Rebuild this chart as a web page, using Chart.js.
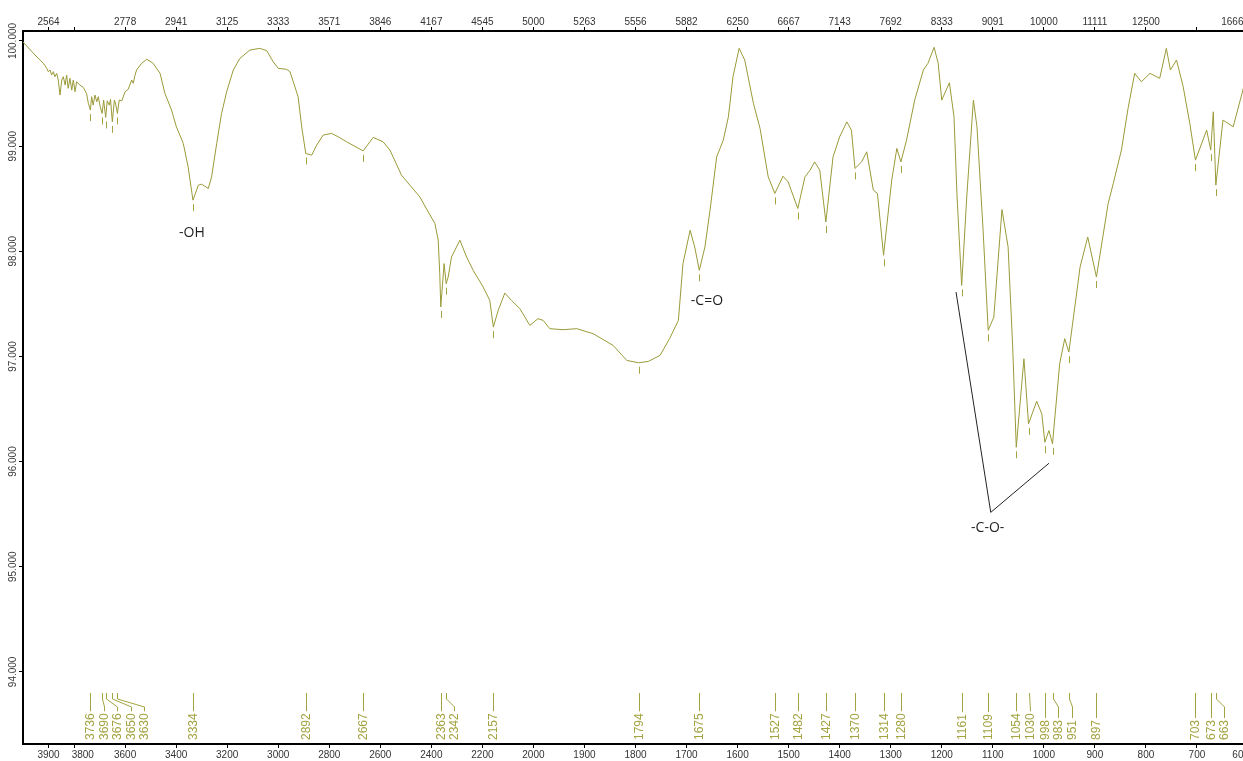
<!DOCTYPE html>
<html>
<head>
<meta charset="utf-8">
<title>IR spectrum</title>
<script src="https://cdn.jsdelivr.net/npm/chart.js@4.4.1/dist/chart.umd.min.js"></script>
<style>
  html, body { margin: 0; padding: 0; overflow: hidden; background: #fff; }
  #wrap { position: absolute; left: 0; top: 0; width: 1250px; height: 761px; }
</style>
</head>
<body>
<div id="wrap"><canvas id="spectrum" width="1250" height="761"></canvas></div>
<script>
// spectrum (cm-1 / %T)
const wavenumber = [
  4000, 3953, 3920, 3907, 3901, 3894, 3888, 3881, 3875, 3868, 3862, 3855, 3848, 3842, 3835, 3829,
  3823, 3816, 3809, 3803, 3796, 3790, 3777, 3764, 3751, 3744, 3736, 3731, 3725, 3718, 3711, 3705,
  3698, 3690, 3684, 3676, 3670, 3662, 3657, 3650, 3642, 3637, 3630, 3623, 3613, 3600, 3588, 3574,
  3568, 3561, 3555, 3535, 3515, 3490, 3463, 3444, 3418, 3399, 3372, 3353, 3334, 3313, 3300, 3274,
  3261, 3241, 3222, 3202, 3176, 3150, 3111, 3072, 3045, 3020, 3000, 2967, 2954, 2941, 2922, 2908,
  2892, 2869, 2849, 2824, 2791, 2765, 2732, 2667, 2628, 2589, 2562, 2517, 2484, 2445, 2412, 2386,
  2373, 2367, 2363, 2350, 2342, 2334, 2321, 2288, 2262, 2236, 2197, 2171, 2157, 2138, 2112, 2086,
  2053, 2014, 1991, 1981, 1968, 1942, 1915, 1883, 1844, 1817, 1794, 1775, 1752, 1733, 1716, 1707,
  1693, 1684, 1675, 1664, 1654, 1641, 1628, 1618, 1609, 1597, 1586, 1569, 1556, 1540, 1527, 1511,
  1501, 1482, 1468, 1458, 1449, 1439, 1427, 1413, 1400, 1386, 1377, 1370, 1357, 1347, 1334, 1326,
  1314, 1298, 1288, 1280, 1269, 1253, 1236, 1227, 1215, 1207, 1200, 1185, 1176, 1170, 1161, 1151,
  1138, 1131, 1119, 1109, 1098, 1082, 1070, 1061, 1054, 1039, 1030, 1014, 1004, 998, 990, 983,
  969, 959, 951, 929, 914, 897, 874, 864, 848, 835, 822, 809, 792, 773, 760, 752,
  740, 727, 714, 703, 681, 673, 668, 665, 663, 649, 639, 629, 610, 600
];
const transmittance = [
  99.990, 99.867, 99.788, 99.740, 99.708, 99.724, 99.676, 99.708, 99.660, 99.692, 99.629, 99.486, 99.629, 99.660, 99.581, 99.676,
  99.550, 99.645, 99.533, 99.629, 99.517, 99.612, 99.581, 99.559, 99.502, 99.407, 99.343, 99.470, 99.390, 99.486, 99.422, 99.470,
  99.381, 99.311, 99.438, 99.273, 99.431, 99.390, 99.445, 99.231, 99.438, 99.400, 99.311, 99.438, 99.431, 99.517, 99.540, 99.629,
  99.597, 99.676, 99.724, 99.788, 99.826, 99.788, 99.692, 99.502, 99.343, 99.184, 99.026, 98.803, 98.486, 98.629, 98.638, 98.597,
  98.708, 99.026, 99.311, 99.517, 99.724, 99.835, 99.914, 99.930, 99.908, 99.803, 99.740, 99.730, 99.708, 99.612, 99.470, 99.184,
  98.930, 98.914, 99.010, 99.105, 99.121, 99.089, 99.041, 98.955, 99.083, 99.041, 98.962, 98.724, 98.629, 98.517, 98.374, 98.264,
  98.105, 97.788, 97.470, 97.883, 97.692, 97.755, 97.946, 98.105, 97.946, 97.819, 97.660, 97.533, 97.279, 97.438, 97.603, 97.533,
  97.454, 97.295, 97.359, 97.343, 97.264, 97.254, 97.264, 97.216, 97.105, 96.962, 96.940, 96.952, 97.010, 97.171, 97.343, 97.883,
  98.200, 98.041, 97.819, 98.041, 98.390, 98.898, 99.057, 99.279, 99.660, 99.930, 99.819, 99.407, 99.169, 98.708, 98.550, 98.714,
  98.660, 98.407, 98.708, 98.771, 98.850, 98.771, 98.279, 98.898, 99.089, 99.231, 99.152, 98.788, 98.850, 98.946, 98.581, 98.550,
  97.962, 98.676, 98.978, 98.850, 99.057, 99.438, 99.724, 99.788, 99.940, 99.788, 99.438, 99.603, 99.279, 98.517, 97.676, 98.517,
  99.438, 99.184, 98.200, 97.248, 97.374, 98.397, 98.041, 97.089, 96.136, 96.978, 96.359, 96.574, 96.454, 96.184, 96.295, 96.169,
  96.930, 97.169, 97.041, 97.850, 98.136, 97.755, 98.454, 98.645, 98.962, 99.359, 99.692, 99.612, 99.692, 99.645, 99.930, 99.724,
  99.819, 99.565, 99.216, 98.867, 99.152, 98.962, 99.327, 98.914, 98.629, 99.248, 99.216, 99.184, 99.533, 99.724
];

// picked peaks (cm-1)
const peakPositions = [
  3736, 3690, 3676, 3650, 3630, 3334, 2892, 2667, 2363, 2342, 2157, 1794, 1675, 1527, 1482,
  1427, 1370, 1314, 1280, 1161, 1109, 1054, 1030, 998, 983, 951, 897, 703, 673, 663
];

// axes
const bottomTicks = [3900, 3800, 3600, 3400, 3200, 3000, 2800, 2600, 2400, 2200, 2000,
  1900, 1800, 1700, 1600, 1500, 1400, 1300, 1200, 1100, 1000, 900, 800, 700, 600];
const topTickLabels = ['2564', '', '2778', '2941', '3125', '3333', '3571', '3846', '4167', '4545', '5000',
  '5263', '5556', '5882', '6250', '6667', '7143', '7692', '8333', '9091', '10000', '11111', '12500', '', '16667'];
const yTicks = [94, 95, 96, 97, 98, 99, 100];

const CURVE = '#9a9a38';
const PEAK = '#a3a342';
const SPLIT = 2000; // below 2000 cm-1 the axis is stretched 2x

// wavenumber axis with the usual 2x expansion below 2000
class IrScale extends Chart.LinearScale {
    static id = 'ir';
    static defaults = Chart.LinearScale.defaults;

    warp(v) { return v > SPLIT ? SPLIT + (v - SPLIT) / 2 : v; }
    unwarp(u) { return u > SPLIT ? SPLIT + (u - SPLIT) * 2 : u; }

    getPixelForValue(value) {
        if (value === null || isNaN(value)) return NaN;
        const a = this.warp(this.min), b = this.warp(this.max);
        return this.getPixelForDecimal((this.warp(value) - a) / (b - a));
    }

    getValueForPixel(pixel) {
        const a = this.warp(this.min), b = this.warp(this.max);
        return this.unwarp(a + this.getDecimalForPixel(pixel) * (b - a));
    }
}
Chart.register(IrScale);

function valueAt(w) {
    for (let i = 1; i < wavenumber.length; i++) {
        if (wavenumber[i] <= w) {
            const w0 = wavenumber[i - 1], w1 = wavenumber[i];
            const t = w0 === w1 ? 0 : (w - w0) / (w1 - w0);
            return transmittance[i - 1] + t * (transmittance[i] - transmittance[i - 1]);
        }
    }
    return transmittance[transmittance.length - 1];
}

// x tick labels: pushed apart when they crowd, last one kept inside the canvas
function drawXLabels(ctx, scale, labels, yMid, canvasWidth) {
    let prevRight = -Infinity;
    bottomTicks.forEach((v, i) => {
        const text = labels[i];
        if (!text) return;
        const w = ctx.measureText(text).width;
        let cx = scale.getPixelForValue(v);
        if (cx - w / 2 < prevRight + 12) cx = prevRight + 12 + w / 2;
        if (cx + w / 2 > canvasWidth - 1) cx = canvasWidth - 1 - w / 2;
        ctx.fillText(text, cx, yMid);
        prevRight = cx + w / 2;
    });
}

const decorPlugin = {
    id: 'irDecor',
    afterDatasetsDraw(chart) {
        const { ctx, chartArea } = chart;
        const x = chart.scales.x, x2 = chart.scales.x2, y = chart.scales.y;
        ctx.save();

        ctx.fillStyle = '#333';
        ctx.font = '10px "Liberation Sans", Arial, sans-serif';
        ctx.textAlign = 'center';
        ctx.textBaseline = 'middle';
        drawXLabels(ctx, x, bottomTicks.map(String), chartArea.bottom + 11, chart.width);
        drawXLabels(ctx, x2, topTickLabels, chartArea.top - 9, chart.width);

        // y tick labels, turned like in the original software
        ctx.fillStyle = '#3a3a3a';
        y.ticks.forEach(t => {
            ctx.save();
            ctx.translate(13, y.getPixelForValue(t.value));
            ctx.rotate(-Math.PI / 2);
            ctx.fillText(t.value.toFixed(3), 0, 0);
            ctx.restore();
        });

        // small marks under each picked peak
        ctx.strokeStyle = PEAK;
        ctx.lineWidth = 1;
        peakPositions.forEach(p => {
            const px = Math.round(x.getPixelForValue(p)) + 0.5;
            const py = y.getPixelForValue(valueAt(p));
            ctx.beginPath();
            ctx.moveTo(px, py + 4);
            ctx.lineTo(px, py + 11);
            ctx.stroke();
        });

        // peak labels along the bottom, spread out where they crowd
        const top = chartArea.bottom - 51;
        const base = chartArea.bottom - 4;
        ctx.font = '12px "Liberation Sans", Arial, sans-serif';
        ctx.fillStyle = PEAK;
        ctx.textAlign = 'left';
        const spots = [];
        peakPositions.forEach((p, i) => {
            const px = x.getPixelForValue(p);
            spots.push(i && px < spots[i - 1] + 13.5 ? spots[i - 1] + 13.5 : px);
        });
        peakPositions.forEach((p, i) => {
            const px = Math.round(x.getPixelForValue(p)) + 0.5;
            const lx = Math.round(spots[i]) + 0.5;
            const w = ctx.measureText(String(p)).width;
            ctx.beginPath();
            ctx.moveTo(px, top);
            if (Math.abs(lx - px) > 1) {
                ctx.lineTo(px, top + 6);
                ctx.lineTo(lx, top + 14);
            }
            ctx.lineTo(lx, base - w - 2);
            ctx.stroke();
            ctx.save();
            ctx.translate(lx, base);
            ctx.rotate(-Math.PI / 2);
            ctx.fillText(String(p), 0, 0);
            ctx.restore();
        });

        // group assignments
        ctx.fillStyle = '#1e1e1e';
        ctx.font = '14px "Open Sans", sans-serif';
        ctx.textAlign = 'center';
        ctx.textBaseline = 'middle';
        ctx.fillText('-OH', x.getPixelForValue(3338), y.getPixelForValue(98.171));
        ctx.fillText('-C=O', x.getPixelForValue(1660), y.getPixelForValue(97.524));
        ctx.fillText('-C-O-', x.getPixelForValue(1110), y.getPixelForValue(95.371));

        ctx.strokeStyle = '#222';
        ctx.beginPath();
        ctx.moveTo(x.getPixelForValue(1172), y.getPixelForValue(97.612));
        ctx.lineTo(x.getPixelForValue(1104), y.getPixelForValue(95.517));
        ctx.lineTo(x.getPixelForValue(990), y.getPixelForValue(95.984));
        ctx.stroke();

        ctx.restore();
    }
};

function fixedX(h) {
    return scale => {
        scale.height = h;
        scale.paddingLeft = 0;
        scale.paddingRight = 0;
    };
}

const xAxis = (position, h) => ({
    type: 'ir',
    position: position,
    reverse: true,
    min: 600,
    max: 4000,
    afterBuildTicks: s => { s.ticks = bottomTicks.map(v => ({ value: v })); },
    afterFit: fixedX(h),
    ticks: { display: false, autoSkip: false },
    grid: { drawOnChartArea: false, tickLength: 4, color: '#000' },
    border: { display: true, color: '#000', width: 2 }
});

new Chart(document.getElementById('spectrum'), {
    type: 'line',
    data: {
        datasets: [{
            data: wavenumber.map((w, i) => ({ x: w, y: transmittance[i] })),
            borderColor: CURVE,
            borderWidth: 1,
            pointRadius: 0,
            tension: 0,
            fill: false
        }]
    },
    options: {
        responsive: false,
        devicePixelRatio: 1,
        animation: false,
        layout: { padding: { left: 0, top: 0, bottom: 0, right: 2 } },
        plugins: {
            legend: { display: false },
            tooltip: { enabled: false }
        },
        scales: {
            x: xAxis('bottom', 17),
            x2: xAxis('top', 31),
            y: {
                type: 'linear',
                position: 'left',
                min: 93.314,
                max: 100.095,
                afterBuildTicks: s => { s.ticks = yTicks.map(v => ({ value: v })); },
                afterFit: s => { s.width = 23; s.paddingTop = 0; s.paddingBottom = 0; },
                ticks: { display: false },
                grid: { drawOnChartArea: false, tickLength: 4, color: '#000' },
                border: { display: true, color: '#000', width: 2 }
            }
        }
    },
    plugins: [decorPlugin]
});
</script>
</body>
</html>
